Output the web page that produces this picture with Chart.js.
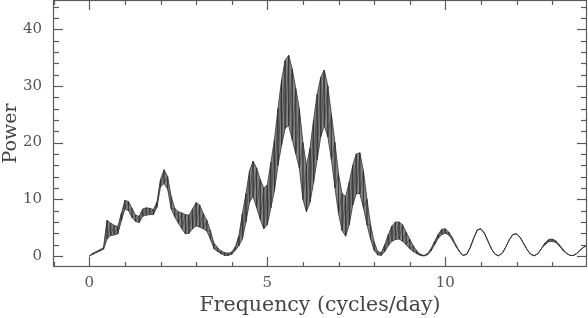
<!DOCTYPE html>
<html>
<head>
<meta charset="utf-8">
<script src="https://cdn.jsdelivr.net/npm/chart.js@4.4.1/dist/chart.umd.min.js"></script>
<style>
  html, body { margin: 0; padding: 0; background: #ffffff; }
  #wrap { width: 588px; height: 318px; }
</style>
</head>
<body>
<div id="wrap"><canvas id="c" width="588" height="318"></canvas></div>
<script>
// Frequency grid (cycles/day)
const freq = [
  0.0,0.1,0.2,0.3,0.4,0.5,0.6,0.7,0.8,0.9,
  1.0,1.1,1.2,1.3,1.4,1.5,1.6,1.7,1.8,1.9,
  2.0,2.1,2.2,2.3,2.4,2.5,2.6,2.7,2.8,2.9,
  3.0,3.1,3.2,3.3,3.4,3.5,3.6,3.7,3.8,3.9,
  4.0,4.1,4.2,4.3,4.4,4.5,4.6,4.7,4.8,4.9,
  5.0,5.1,5.2,5.3,5.4,5.5,5.6,5.7,5.8,5.9,
  6.0,6.1,6.2,6.3,6.4,6.5,6.6,6.7,6.8,6.9,
  7.0,7.1,7.2,7.3,7.4,7.5,7.6,7.7,7.8,7.9,
  8.0,8.1,8.2,8.3,8.4,8.5,8.6,8.7,8.8,8.9,
  9.0,9.1,9.2,9.3,9.4,9.5,9.6,9.7,9.8,9.9,
  10.0,10.1,10.2,10.3,10.4,10.5,10.6,10.7,10.8,10.9,
  11.0,11.1,11.2,11.3,11.4,11.5,11.6,11.7,11.8,11.9,
  12.0,12.1,12.2,12.3,12.4,12.5,12.6,12.7,12.8,12.9,
  13.0,13.1,13.2,13.3,13.4,13.5,13.6,13.7,13.8,13.9,
  14.0
];
// Upper envelope of the (rapidly oscillating) power spectrum
const powerUpper = [
  0.0,0.5,0.8,1.1,1.5,6.3,5.8,5.4,5.2,7.5,
  9.8,9.6,8.4,7.2,7.0,8.3,8.5,8.4,8.2,9.5,
  13.5,15.2,14.0,10.5,8.4,7.8,7.6,7.3,7.2,8.3,
  9.4,9.0,7.5,6.3,4.5,2.3,1.5,0.9,0.6,0.5,
  0.7,1.6,3.5,7.5,11.0,15.0,16.7,15.5,13.5,12.0,
  12.5,16.5,20.5,26.0,31.0,34.5,35.4,33.0,29.5,26.0,
  20.0,16.0,19.0,24.0,28.5,31.5,32.8,30.0,25.0,20.0,
  14.5,11.0,10.5,13.0,16.0,18.0,18.2,15.0,10.0,5.5,
  2.5,0.8,0.6,2.0,3.8,5.3,6.0,6.0,5.5,4.2,
  3.0,1.8,0.9,0.3,0.1,0.4,1.3,2.6,3.8,4.7,
  4.8,4.2,3.2,1.9,0.8,0.1,0.3,1.5,3.2,4.6,
  4.8,4.0,2.6,1.2,0.3,0.05,0.5,1.6,2.9,3.8,
  3.9,3.3,2.2,1.1,0.3,0.05,0.4,1.3,2.3,2.9,
  3.0,2.7,2.0,1.2,0.5,0.1,0.1,0.5,1.1,1.6,
  1.9
];
// Lower envelope of the power spectrum
const powerLower = [
  0.0,0.3,0.6,0.9,1.2,3.0,3.6,3.7,3.9,6.2,
  8.3,8.0,6.8,6.1,5.9,7.0,7.2,7.3,7.3,8.6,
  12.2,12.8,11.8,8.3,6.9,5.8,4.8,3.9,4.0,4.8,
  5.3,5.1,4.8,4.4,3.0,1.3,0.8,0.4,0.1,0.1,
  0.3,1.0,1.8,3.0,6.0,9.5,10.5,8.5,6.5,4.8,
  5.5,8.5,11.5,16.0,19.5,22.5,23.0,20.5,18.0,15.5,
  10.0,7.8,9.5,13.0,17.0,21.0,23.0,21.0,17.0,12.0,
  7.5,4.5,3.5,5.5,9.0,11.0,11.0,8.5,5.5,3.0,
  1.0,0.2,0.1,0.8,1.8,2.6,2.9,3.0,2.6,2.0,
  1.3,0.8,0.4,0.1,0.0,0.2,0.9,2.0,3.1,3.8,
  4.0,3.7,2.8,1.7,0.7,0.1,0.3,1.5,3.2,4.6,
  4.8,4.0,2.6,1.2,0.3,0.05,0.5,1.6,2.9,3.8,
  3.9,3.3,2.2,1.1,0.3,0.05,0.4,1.3,2.0,2.5,
  2.6,2.4,1.8,1.0,0.5,0.1,0.1,0.5,1.1,1.6,
  1.9
];
// Axis tick labels
const xTickValues = [0, 5, 10];
const yTickValues = [0, 10, 20, 30, 40];
const xMinorStep = 1;
const yMinorStep = 2;

const upperPts = freq.map((f, i) => ({ x: f, y: powerUpper[i] }));
const lowerPts = freq.map((f, i) => ({ x: f, y: powerLower[i] }));
const zigzag = [];
freq.forEach((f, i) => {
  zigzag.push({ x: f, y: powerUpper[i] });
  zigzag.push({ x: f, y: powerLower[i] });
});

const frameTicks = {
  id: 'frameTicks',
  afterDraw(chart) {
    const { ctx, chartArea: a, scales } = chart;
    const xs = scales.x, ys = scales.y;
    ctx.save();
    ctx.strokeStyle = '#5a5a5a';
    ctx.lineWidth = 1.2;
    ctx.strokeRect(a.left + 0.5, a.top + 0.5, a.right - a.left - 1, a.bottom - a.top - 1);
    const line = (x1, y1, x2, y2) => { ctx.beginPath(); ctx.moveTo(x1, y1); ctx.lineTo(x2, y2); ctx.stroke(); };
    for (let v = Math.ceil(xs.min); v <= xs.max + 1e-9; v += xMinorStep) {
      const px = Math.round(xs.getPixelForValue(v)) + 0.5;
      const len = xTickValues.includes(v) ? 10 : 5;
      line(px, a.bottom, px, a.bottom - len);
      line(px, a.top, px, a.top + len);
    }
    for (let v = Math.ceil(ys.min / yMinorStep) * yMinorStep; v <= ys.max + 1e-9; v += yMinorStep) {
      const py = Math.round(ys.getPixelForValue(v)) + 0.5;
      const len = yTickValues.includes(v) ? 10 : 6;
      line(a.left, py, a.left + len, py);
      line(a.right, py, a.right - len, py);
    }
    ctx.restore();
  }
};

const zeroPad = s => { s.paddingTop = 0; s.paddingBottom = 0; s.paddingLeft = 0; s.paddingRight = 0; };

new Chart(document.getElementById('c'), {
  type: 'line',
  data: {
    datasets: [
      { data: lowerPts, borderColor: '#333333', borderWidth: 0.8, pointRadius: 0, fill: false, tension: 0, order: 1 },
      { data: upperPts, borderColor: '#333333', borderWidth: 0.8, pointRadius: 0, fill: '-1', backgroundColor: '#858585', tension: 0, order: 2 },
      { data: zigzag, borderColor: '#303030', borderWidth: 0.55, pointRadius: 0, fill: false, tension: 0, order: -1 }
    ]
  },
  options: {
    responsive: false,
    animation: false,
    events: [],
    layout: { padding: { top: 0, right: 1, left: 0, bottom: 0 } },
    plugins: { legend: { display: false }, tooltip: { enabled: false } },
    scales: {
      x: {
        type: 'linear',
        min: -1.02, max: 13.98,
        afterBuildTicks: s => { s.ticks = xTickValues.map(v => ({ value: v })); },
        afterFit: s => { s.height = 51; zeroPad(s); },
        grid: { display: false, drawTicks: false, tickLength: 0 },
        border: { display: false },
        ticks: { color: '#555', padding: 7, font: { family: 'DejaVu Serif', size: 15 } },
        title: { display: true, text: 'Frequency (cycles/day)', color: '#444', padding: 0,
                 font: { family: 'DejaVu Serif', size: 20.5 } }
      },
      y: {
        type: 'linear',
        min: -1.94, max: 45.15,
        afterBuildTicks: s => { s.ticks = yTickValues.map(v => ({ value: v })); },
        afterFit: s => { s.width = 53; zeroPad(s); },
        grid: { display: false, drawTicks: false, tickLength: 0 },
        border: { display: false },
        ticks: { color: '#555', padding: 11, font: { family: 'DejaVu Serif', size: 15 } },
        title: { display: true, text: 'Power', color: '#444', padding: 0,
                 font: { family: 'DejaVu Serif', size: 19 } }
      }
    }
  },
  plugins: [frameTicks]
});
</script>
</body>
</html>
